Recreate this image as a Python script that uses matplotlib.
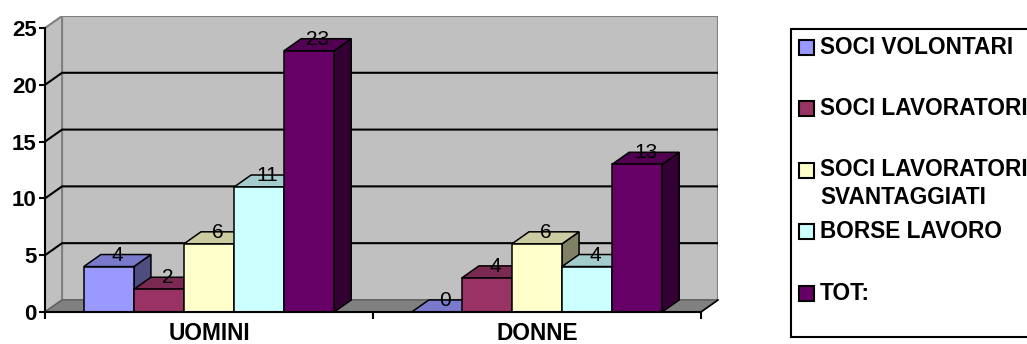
import numpy as np
import matplotlib
matplotlib.use("Agg")
import matplotlib.pyplot as plt
from matplotlib.patches import Polygon, Rectangle

# data
categories = ["UOMINI", "DONNE"]
series = ["SOCI VOLONTARI", "SOCI LAVORATORI", "SOCI LAVORATORI\nSVANTAGGIATI",
          "BORSE LAVORO", "TOT:"]
uomini = [4, 2, 6, 11, 23]
donne = [0, 3, 6, 4, 13]
# the data labels as printed on the chart (the DONNE magenta bar reads "4")
uomini_labels = ["4", "2", "6", "11", "23"]
donne_labels = ["0", "4", "6", "4", "13"]
yticks = [0, 5, 10, 15, 20, 25]

colors = ["#9999FF", "#993366", "#FFFFCC", "#CCFFFF", "#660066"]

W, H = 1027, 344
fig = plt.figure(figsize=(W / 100, H / 100), dpi=100)
plt.rcParams['font.family'] = ['Liberation Sans', 'DejaVu Sans']


def shade(c, f):
    r, g, b = matplotlib.colors.to_rgb(c)
    return (r * f, g * f, b * f)


# depth of the fake 3d in data units
dx, dy = 0.052, 1.06
ymax = yticks[-1]
ax = fig.add_axes([45 / W, (H - 312) / H, 673 / W, 296 / H])
ax.set_xlim(0, len(categories) + dx)
ax.set_ylim(0, ymax + dy)

# walls and floor
ncat = len(categories)
ax.add_patch(Polygon([(dx, dy), (ncat + dx, dy), (ncat + dx, ymax + dy), (dx, ymax + dy)],
                     closed=True, fc="#C0C0C0", ec="#808080", lw=1.5, zorder=0))
ax.add_patch(Polygon([(0, 0), (dx, dy), (dx, ymax + dy), (0, ymax)],
                     closed=True, fc="#C0C0C0", ec="#808080", lw=1.5, zorder=0))
ax.add_patch(Polygon([(0, 0), (ncat, 0), (ncat + dx, dy), (dx, dy)],
                     closed=True, fc="#808080", ec="#606060", lw=1.0, zorder=1))
ax.plot([ncat, ncat + dx], [0, dy], color="black", lw=1.2, zorder=1, clip_on=False)
for v in yticks[1:-1]:
    ax.plot([0, dx, ncat + dx], [v, v + dy, v + dy], color="black", lw=1.5, zorder=1)

# bars
nser = len(series)
bw = 50 / 327.5
margin = (1 - nser * bw) / 2
values = [uomini, donne]
labels = [uomini_labels, donne_labels]
z = 2
for i, vals in enumerate(values):
    for j, v in enumerate(vals):
        x0 = i + margin + j * bw
        x1 = x0 + bw
        side = [(x1, 0), (x1 + dx, dy), (x1 + dx, v + dy), (x1, v)]
        top = [(x0, v), (x1, v), (x1 + dx, v + dy), (x0 + dx, v + dy)]
        ax.add_patch(Polygon(side, closed=True, fc=shade(colors[j], 0.5), ec="black", lw=1.1, zorder=z))
        ax.add_patch(Polygon(top, closed=True, fc=shade(colors[j], 0.8), ec="black", lw=1.1, zorder=z))
        if v > 0:
            ax.add_patch(Rectangle((x0, 0), bw, v, fc=colors[j], ec="black", lw=1.1, zorder=z))
        ax.text(x0 + bw / 2 + dx / 2, v + dy * 0.95, labels[i][j], ha="center", va="center",
                fontsize=15, zorder=50)
        z += 1

# axes styling
for s in ["top", "right"]:
    ax.spines[s].set_visible(False)
ax.spines["left"].set_bounds(0, ymax)
ax.spines["bottom"].set_bounds(0, ncat)
for s in ["left", "bottom"]:
    ax.spines[s].set_linewidth(1.5)
    ax.spines[s].set_zorder(60)
ax.set_yticks(yticks)
ax.set_yticklabels([str(t) for t in yticks], fontsize=16, fontweight="bold")
ax.tick_params(axis="y", length=4, width=1.5, pad=2)
ax.set_xticks(range(ncat + 1))
ax.set_xticklabels([])
ax.tick_params(axis="x", which="major", length=5, width=1.5)
ax.set_xticks([i + 0.5 for i in range(ncat)], minor=True)
ax.set_xticklabels(categories, minor=True, fontsize=16.3, fontweight="bold")
ax.tick_params(axis="x", which="minor", length=0, pad=7)


# legend, drawn by hand in figure pixels
def px(x, y):
    return x / W, 1 - y / H


fig.patches.append(Rectangle(px(791, 337), 260 / W, 308 / H, transform=fig.transFigure,
                             fc="white", ec="black", lw=1.5, clip_on=False))
for k, (lab, c) in enumerate(zip(series, colors)):
    yc = 47 + 61.5 * k
    fig.patches.append(Rectangle(px(799, yc + 7.5), 15 / W, 15 / H, transform=fig.transFigure,
                                 fc=c, ec="black", lw=1.5))
    for n, line in enumerate(lab.split("\n")):
        fig.text(*px(820, yc + 27 * n), line, ha="left", va="center",
                 fontsize=16.3, fontweight="bold")

fig.savefig("out.png", dpi=100)
